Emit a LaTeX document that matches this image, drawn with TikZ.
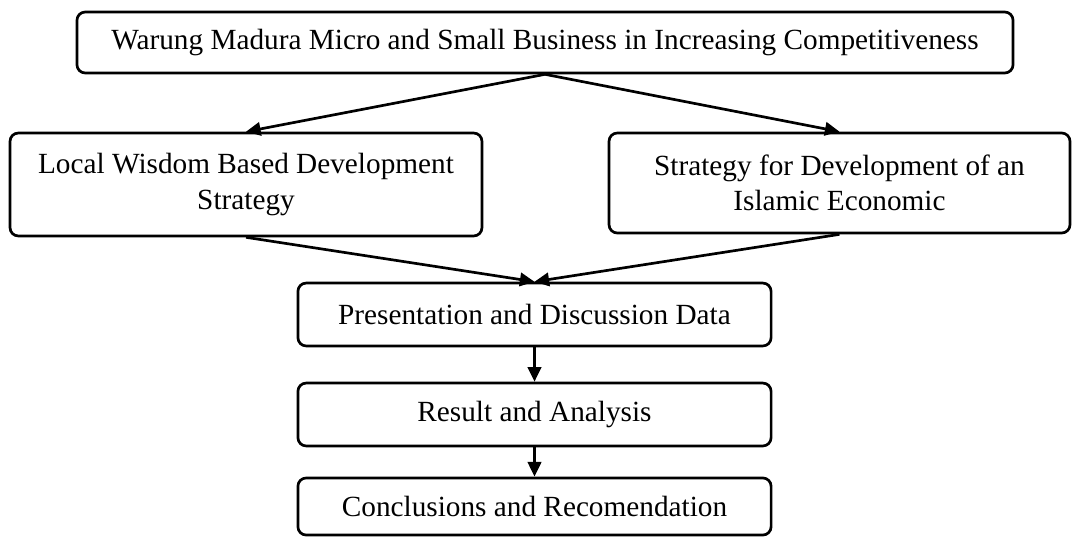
\documentclass[tikz,border=0pt]{standalone}
\usepackage{fontspec}
\setmainfont{Liberation Serif}
\usetikzlibrary{arrows.meta}

\begin{document}
\begin{tikzpicture}[x=0.41pt, y=-0.41pt,
    box/.style={draw, line width=1.1pt, rounded corners=3.4pt, align=center,
      font=\fontsize{12}{14.4}\selectfont, inner sep=0pt},
    flow/.style={line width=1.1pt, -{Triangle[length=6pt, width=5.5pt]}}]
  \useasboundingbox (0,0) rectangle (1072,537);
  % objective on top
  \node[box, minimum width=383.8pt, minimum height=25pt] (umkm) at (545,42.5)
    {Warung Madura Micro and Small Business in Increasing Competitiveness};
  % the two strategies
  \node[box, minimum width=193.5pt, minimum height=42.2pt] (lokal) at (246,184.5)
    {Local Wisdom Based Development\\Strategy};
  \node[box, minimum width=189pt, minimum height=41pt] (islam) at (839.5,183)
    {Strategy for Development of an\\Islamic Economic};
  % steps below
  \node[box, minimum width=194pt, minimum height=25.8pt] (data) at (534.5,314.5)
    {Presentation and Discussion Data};
  \node[box, minimum width=194pt, minimum height=25.8pt] (hasil) at (534.5,414.5)
    {Result and Analysis};
  \node[box, minimum width=194pt, minimum height=23.4pt] (simpul) at (534.5,506.5)
    {Conclusions and Recomendation};
  \draw[flow] (umkm.south) -- (lokal.north);
  \draw[flow] (umkm.south) -- (islam.north);
  \draw[flow] (lokal.south) -- (data.north);
  \draw[flow] (islam.south) -- (data.north);
  \draw[flow] (data) -- (hasil);
  \draw[flow] (hasil) -- (simpul);
\end{tikzpicture}
\end{document}
